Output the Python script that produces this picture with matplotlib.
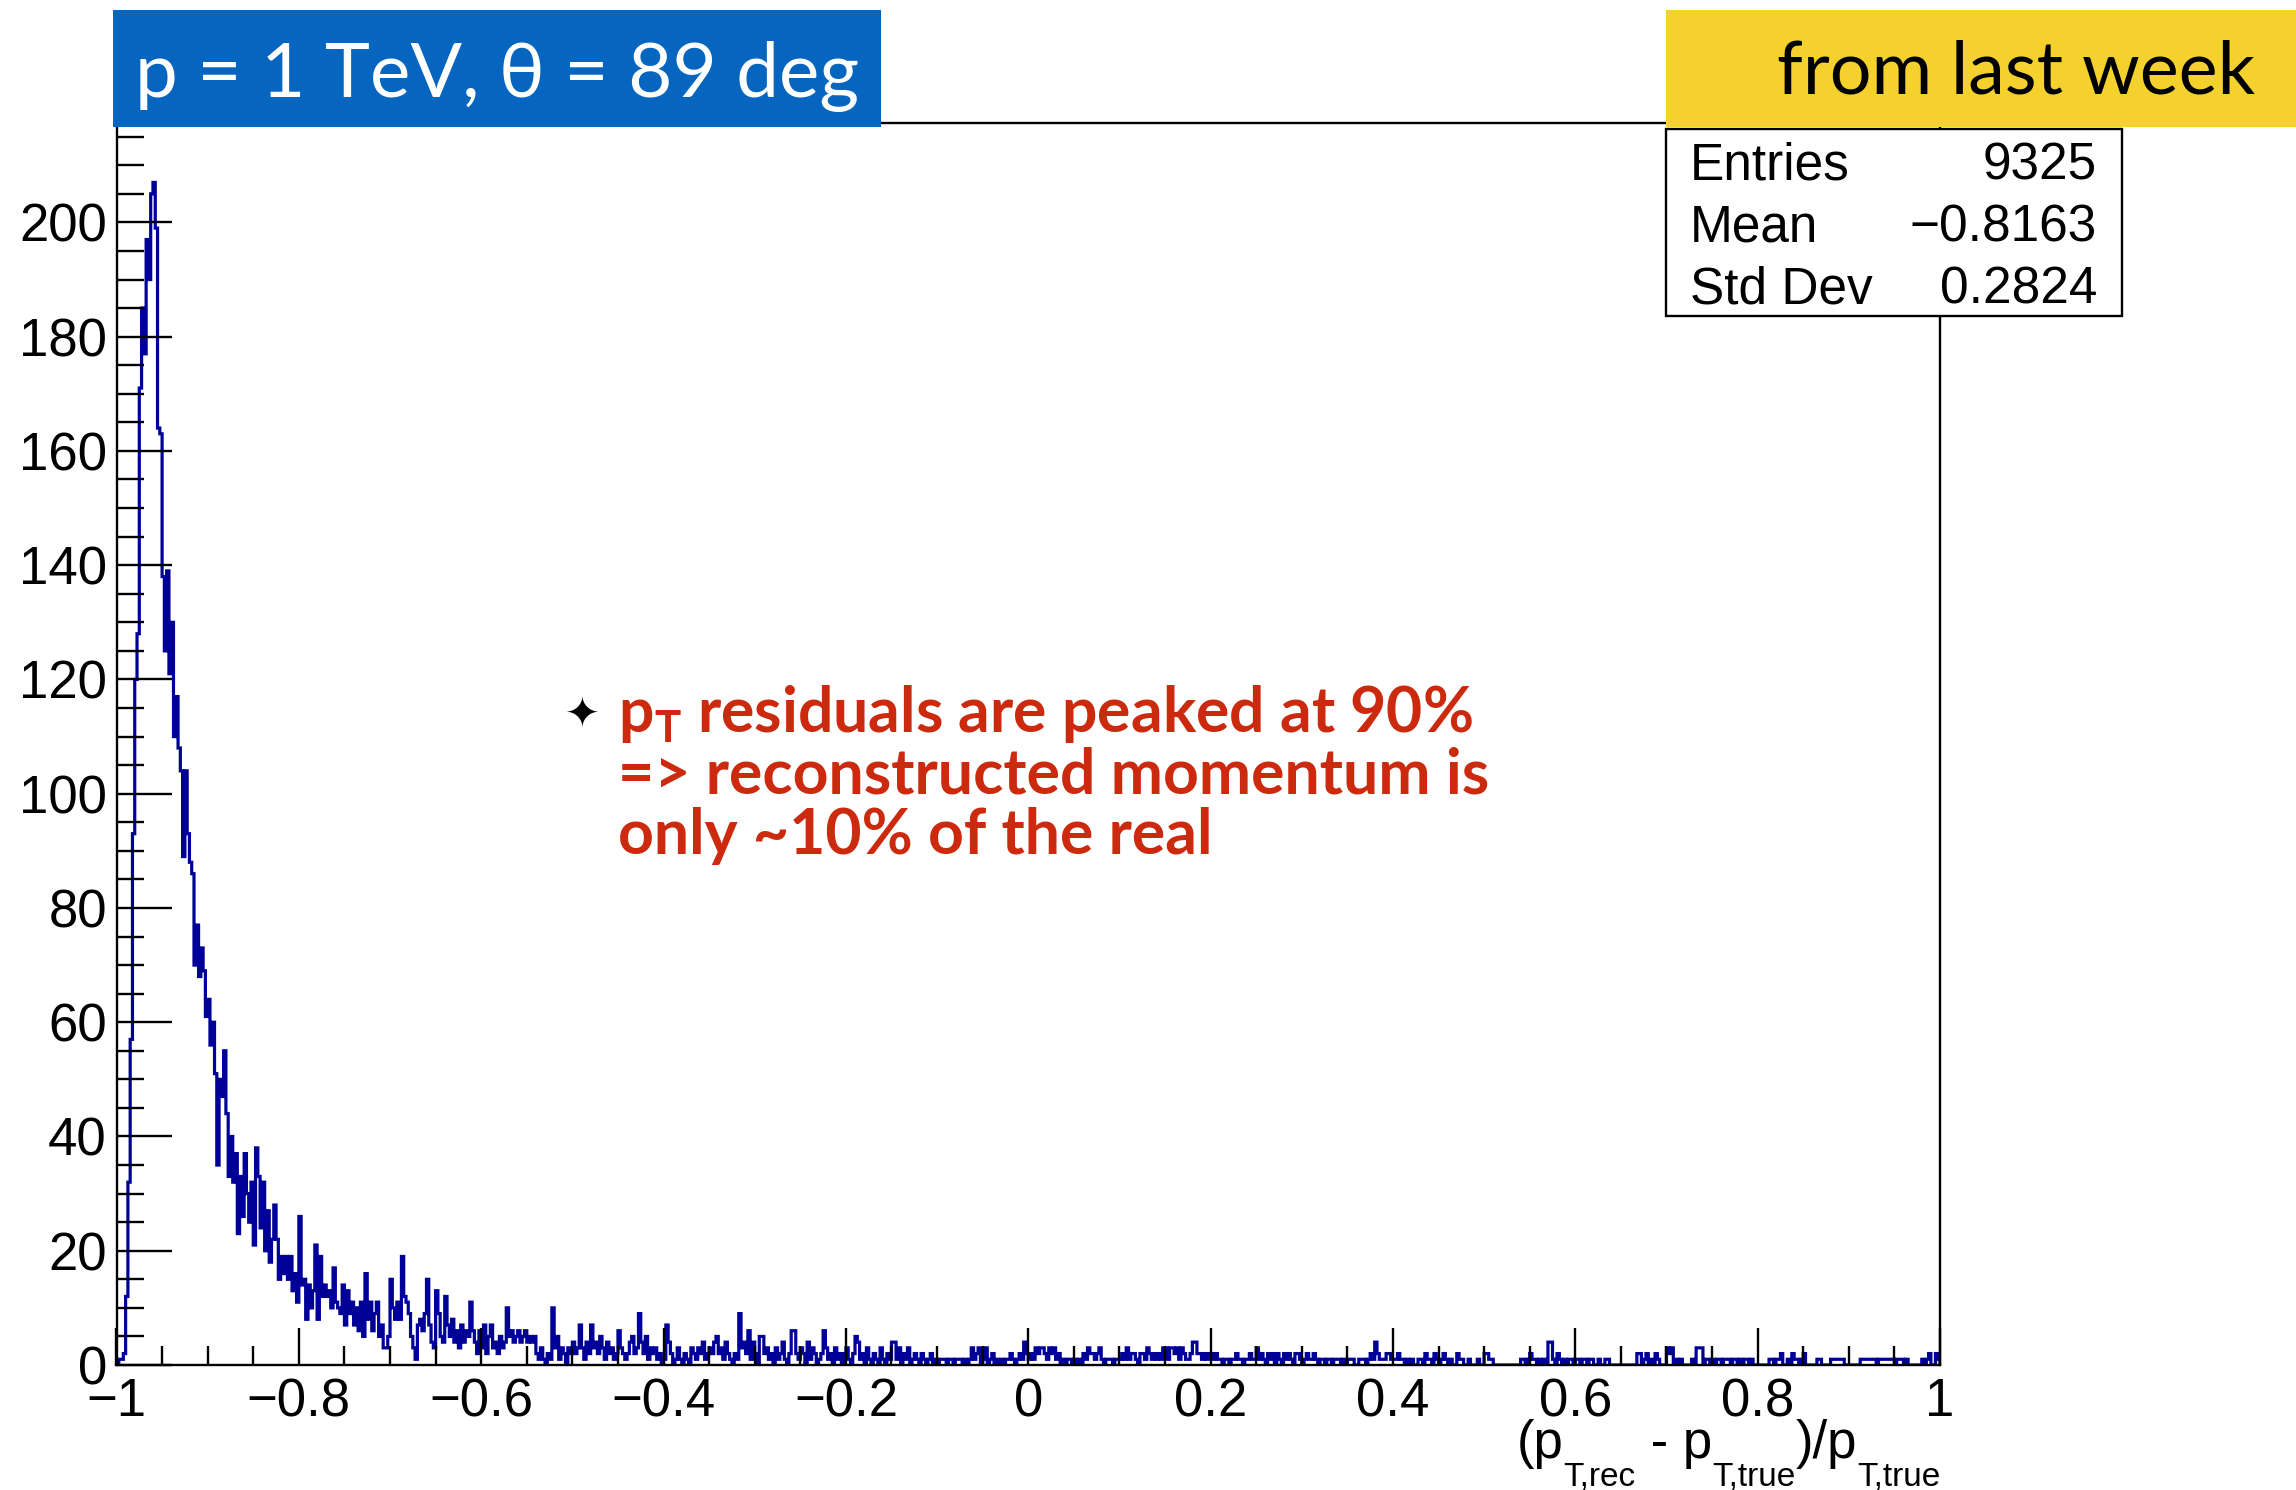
import numpy as np
import matplotlib
matplotlib.use('Agg')
import matplotlib.pyplot as plt
from matplotlib.patches import Rectangle
from matplotlib.ticker import MultipleLocator, FuncFormatter

plt.rcParams['font.family'] = ['Liberation Sans', 'DejaVu Sans']

# histogram range, bins are equal width between x_min and x_max
x_min, x_max = -1.0, 1.0

# bin contents (0.0025 wide bins)
counts_peak = [  # -1.0 .. -0.8
    0, 1, 1, 2, 12, 32, 57, 93, 120, 128,
    171, 185, 177, 197, 190, 205, 207, 199, 164, 163,
    138, 125, 139, 121, 130, 110, 117, 108, 104, 89,
    104, 93, 88, 86, 70, 77, 68, 73, 69, 61,
    64, 56, 60, 51, 35, 50, 47, 55, 44, 33,
    40, 32, 37, 23, 33, 26, 37, 30, 25, 32,
    21, 38, 33, 24, 32, 20, 27, 18, 22, 28,
    22, 15, 19, 16, 19, 15, 19, 13, 16, 11,
]
counts_shoulder = [  # -0.8 .. -0.4
    26, 14, 15, 8, 14, 10, 13, 21, 8, 19, 12, 14, 12, 13, 10, 17, 11, 10, 9, 14,
    7, 13, 9, 11, 7, 10, 6, 11, 5, 16, 8, 11, 6, 9, 11, 5, 7, 3, 3, 5,
    15, 10, 8, 11, 8, 19, 12, 11, 9, 5, 3, 1, 7, 8, 6, 9, 15, 7, 4, 3,
    13, 9, 5, 4, 12, 7, 5, 8, 4, 6, 3, 7, 4, 6, 5, 11, 6, 4, 2, 6,
    3, 7, 2, 5, 7, 3, 4, 2, 5, 3, 4, 10, 5, 6, 4, 5, 6, 4, 5, 6,
    4, 5, 4, 5, 2, 1, 3, 1, 0, 2, 1, 10, 3, 5, 1, 3, 2, 0, 3, 2,
    4, 2, 3, 7, 3, 1, 4, 2, 7, 3, 4, 2, 5, 3, 1, 4, 2, 3, 1, 2,
    6, 3, 2, 1, 2, 4, 5, 2, 3, 9, 4, 2, 5, 1, 3, 2, 3, 1, 2, 0,
]
counts_mid = [  # -0.4 .. 0
    1, 7, 4, 2, 0, 1, 3, 1, 0, 2, 1, 0, 3, 2, 1, 3, 2, 4, 1, 2,
    3, 2, 4, 5, 2, 3, 1, 4, 2, 1, 0, 2, 1, 9, 3, 4, 2, 6, 1, 4,
    2, 0, 5, 5, 2, 3, 1, 2, 0, 3, 1, 2, 4, 1, 0, 2, 6, 6, 2, 1,
    3, 2, 0, 4, 1, 3, 2, 0, 1, 2, 6, 3, 1, 2, 0, 3, 1, 2, 0, 2,
    3, 1, 0, 2, 5, 4, 1, 2, 0, 3, 1, 0, 2, 1, 0, 3, 1, 0, 2, 1,
    4, 4, 1, 3, 0, 2, 1, 3, 0, 1, 2, 1, 0, 2, 1, 0, 1, 2, 0, 1,
    0, 1, 1, 1, 0, 1, 1, 0, 1, 1, 1, 0, 1, 0, 1, 3, 1, 2, 3, 0,
    1, 3, 0, 1, 2, 0, 1, 0, 1, 0, 1, 1, 2, 1, 0, 1, 2, 1, 4, 2,
]
counts_tail = [  # 0 .. 1
    1, 2, 1, 3, 2, 3, 3, 2, 1, 3, 2, 3, 1, 2, 0, 1, 0, 1, 1, 0,
    1, 0, 1, 0, 2, 1, 3, 2, 2, 1, 2, 3, 1, 0, 1, 1, 1, 0, 1, 1,
    1, 2, 1, 3, 1, 2, 2, 1, 0, 2, 2, 1, 3, 2, 1, 2, 1, 2, 1, 3,
    3, 1, 3, 3, 2, 3, 1, 3, 2, 1, 1, 2, 4, 4, 2, 2, 1, 2, 1, 2,
    2, 1, 2, 1, 1, 0, 1, 1, 0, 1, 1, 2, 1, 1, 0, 1, 1, 2, 1, 1,
    3, 1, 2, 1, 0, 2, 1, 2, 0, 2, 1, 0, 2, 1, 2, 1, 0, 2, 2, 1,
    0, 1, 2, 1, 1, 2, 1, 0, 1, 1, 0, 1, 1, 0, 1, 1, 1, 0, 1, 0,
    1, 1, 1, 0, 0, 1, 1, 1, 0, 1, 2, 1, 4, 2, 1, 1, 1, 2, 2, 1,
    1, 1, 2, 1, 1, 0, 1, 0, 1, 0, 0, 1, 1, 0, 2, 1, 1, 0, 2, 1,
    0, 1, 2, 1, 0, 1, 0, 0, 2, 1, 1, 0, 0, 1, 0, 0, 0, 1, 0, 0,
    2, 2, 1, 1, 0, 0, 0, 0, 0, 0, 0, 0, 0, 0, 0, 0, 1, 1, 0, 1,
    2, 1, 1, 0, 1, 0, 1, 0, 4, 4, 1, 0, 2, 1, 0, 1, 0, 1, 1, 0,
    1, 1, 0, 1, 1, 0, 1, 1, 0, 0, 1, 0, 0, 1, 1, 0, 0, 0, 0, 0,
    0, 0, 0, 0, 0, 0, 0, 2, 2, 0, 1, 2, 0, 1, 0, 2, 1, 0, 0, 0,
    3, 2, 3, 0, 1, 0, 1, 0, 0, 0, 0, 1, 0, 3, 3, 3, 0, 1, 1, 0,
    1, 0, 1, 1, 0, 1, 1, 1, 0, 1, 1, 0, 1, 0, 1, 1, 0, 1, 0, 0,
    0, 0, 0, 0, 0, 1, 1, 0, 1, 1, 2, 0, 0, 1, 0, 2, 1, 1, 0, 1,
    2, 0, 0, 0, 0, 0, 1, 1, 0, 0, 0, 0, 1, 1, 1, 1, 1, 1, 0, 0,
    0, 0, 0, 0, 0, 1, 1, 1, 1, 1, 1, 1, 0, 1, 1, 1, 1, 1, 1, 1,
    0, 1, 1, 1, 0, 1, 0, 0, 0, 0, 0, 0, 1, 0, 1, 2, 0, 0, 2, 1,
]

stats_names = ['Entries', 'Mean', 'Std Dev']
stats_values = ['9325', '\u22120.8163', '0.2824']

title_text = 'p = 1 TeV, \u03b8 = 89 deg'
tag_text = 'from last week'
note_lines = ['p$_\\mathregular{T}$ residuals are peaked at 90%',
              '=> reconstructed momentum is',
              'only ~10% of the real']
# x title in ROOT style: (text, is_subscript)
xlabel_parts = [('(p', False), ('T,rec', True), (' - p', False),
                ('T,true', True), (')/p', False), ('T,true', True)]

counts = np.array(counts_peak + counts_shoulder + counts_mid + counts_tail)
edges = np.linspace(x_min, x_max, len(counts) + 1)

W, H = 2296, 1490
def fx(px):
    return px / W
def fy(py):
    return 1 - py / H

fig = plt.figure(figsize=(W / 100, H / 100), dpi=100)
ax = fig.add_axes([fx(116.5), fy(1365), fx(1940) - fx(116.5), fy(123) - fy(1365)])

ax.stairs(counts, edges, color='#000099', lw=2.3, baseline=0)
ax.set_xlim(x_min, x_max)
ax.set_ylim(0, 217.4)

for s in ax.spines.values():
    s.set_linewidth(1.7)

ax.xaxis.set_major_locator(MultipleLocator(0.2))
ax.xaxis.set_minor_locator(MultipleLocator(0.05))
ax.yaxis.set_major_locator(MultipleLocator(20))
ax.yaxis.set_minor_locator(MultipleLocator(5))

def fmt(v, pos):
    s = '%g' % round(v, 3)
    return s.replace('-', '\u2212')
ax.xaxis.set_major_formatter(FuncFormatter(fmt))
ax.yaxis.set_major_formatter(FuncFormatter(fmt))

ax.tick_params(axis='both', which='both', direction='in', top=False, right=False,
               width=1.7, labelsize=38)
ax.tick_params(axis='y', which='major', length=39.4, pad=7)
ax.tick_params(axis='y', which='minor', length=19.7)
ax.tick_params(axis='x', which='major', length=26.9, pad=9)
ax.tick_params(axis='x', which='minor', length=13.4)

# x axis title, built piece by piece and right aligned at the axis end
renderer = fig.canvas.get_renderer()
pieces = []
for txt, is_sub in xlabel_parts:
    t = fig.text(0, fy(1486) if is_sub else fy(1458), txt, ha='left', va='baseline',
                 fontsize=24 if is_sub else 38)
    pieces.append(t)
widths = [t.get_window_extent(renderer).width for t in pieces]
x0 = 1940 - sum(widths)
for t, w in zip(pieces, widths):
    t.set_x(fx(x0))
    x0 += w

# stats box
fig.patches.append(Rectangle((fx(1666), fy(316)), fx(2122) - fx(1666), fy(129) - fy(316),
                             transform=fig.transFigure, facecolor='white',
                             edgecolor='black', lw=1.7, zorder=5))
for i, (name, val) in enumerate(zip(stats_names, stats_values)):
    base = 180 + i * 62
    fig.text(fx(1690), fy(base), name, ha='left', va='baseline', fontsize=37, zorder=6)
    fig.text(fx(2097), fy(base), val, ha='right', va='baseline', fontsize=37, zorder=6)

# blue title box
fig.patches.append(Rectangle((fx(113), fy(127)), fx(881) - fx(113), fy(10) - fy(127),
                             transform=fig.transFigure, facecolor='#0565BF',
                             edgecolor='none', zorder=7))
fig.text(fx(135), fy(97), title_text, ha='left', va='baseline', color='white',
         fontsize=55, family=['Lato', 'Noto Sans'], zorder=8)

# yellow tag box
fig.patches.append(Rectangle((fx(1666), fy(127)), fx(2296) - fx(1666), fy(10) - fy(127),
                             transform=fig.transFigure, facecolor='#F5D12E',
                             edgecolor='none', zorder=7))
fig.text(fx(2255), fy(94), tag_text, ha='right', va='baseline', color='black',
         fontsize=53, family=['Lato', 'Noto Sans'], zorder=8)

# red note with bullet
fig.text(fx(582), fy(715), '\u2726', ha='center', va='center', fontsize=30,
         family='DejaVu Sans', color='black')
for i, line in enumerate(note_lines):
    fig.text(fx(618), fy(732 + i * 61), line, ha='left', va='baseline',
             fontsize=45, fontweight='bold', family=['Lato', 'Noto Sans'],
             color='#CC2A0F')

fig.savefig('out.png', dpi=100)
